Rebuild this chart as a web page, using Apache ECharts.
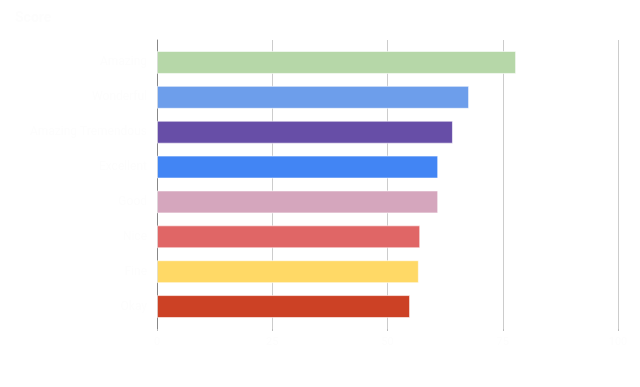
<!DOCTYPE html>
<html>
<head>
<meta charset="utf-8">
<script src="https://cdn.jsdelivr.net/npm/echarts@6/dist/echarts.min.js"></script>
<style>
  html, body { margin: 0; padding: 0; background: #ffffff; }
  #chart { width: 640px; height: 387px; }
</style>
</head>
<body>
<div id="chart"></div>
<script>
  // labels are drawn in white on white in the source, so they are barely visible
  const categories = ['Amazing', 'Wonderful', 'Amazing Tremendous', 'Excellent', 'Good', 'Nice', 'Fine', 'Okay']
  const values = [77.9, 67.7, 64.2, 61.0, 61.0, 57.1, 56.8, 54.9]
  const barColors = ['#b6d7a8', '#6d9eeb', '#674ea7', '#4285f4', '#d5a6bd', '#e06666', '#ffd966', '#cc4125']
  const xTicks = [0, 25, 50, 75, 100]

  const textColor = '#fdfdfd'
  let chart = echarts.init(document.getElementById('chart'))
  chart.setOption({
    animation: false,
    title: {
      text: 'Score',
      left: 10,
      top: 6,
      textStyle: { color: textColor, fontSize: 14, fontFamily: 'Roboto' }
    },
    // grid 0 holds the gridlines and the axis line, grid 1 the bars (slightly inset)
    grid: [
      { left: 157, right: 22, top: 40, bottom: 58 },
      { left: 157, right: 22, top: 45, bottom: 63 }
    ],
    xAxis: [{
      type: 'value',
      gridIndex: 0,
      min: xTicks[0],
      max: xTicks[xTicks.length - 1],
      interval: 25,
      axisLine: { show: false },
      axisTick: { show: true, length: 2, lineStyle: { color: '#bbbbbb' } },
      axisLabel: { color: textColor, fontSize: 11, fontFamily: 'Roboto' },
      splitLine: { lineStyle: { color: '#cccccc', width: 1 } }
    }, {
      type: 'value',
      gridIndex: 1,
      min: xTicks[0],
      max: xTicks[xTicks.length - 1],
      show: false
    }],
    yAxis: [{
      type: 'value',
      gridIndex: 0,
      axisLine: { show: true, lineStyle: { color: '#888888' } },
      axisTick: { show: false },
      axisLabel: { show: false },
      splitLine: { show: false }
    }, {
      type: 'category',
      gridIndex: 1,
      inverse: true,
      data: categories,
      axisLine: { show: false },
      axisTick: { show: false },
      axisLabel: { color: textColor, fontSize: 12, fontFamily: 'Roboto', margin: 10 }
    }],
    series: [{
      type: 'bar',
      xAxisIndex: 1,
      yAxisIndex: 1,
      barWidth: 23,
      data: values.map((v, i) => ({
        value: v,
        itemStyle: { color: barColors[i], borderColor: 'rgba(255,255,255,0.6)', borderWidth: 1 }
      }))
    }]
  })
</script>
</body>
</html>
